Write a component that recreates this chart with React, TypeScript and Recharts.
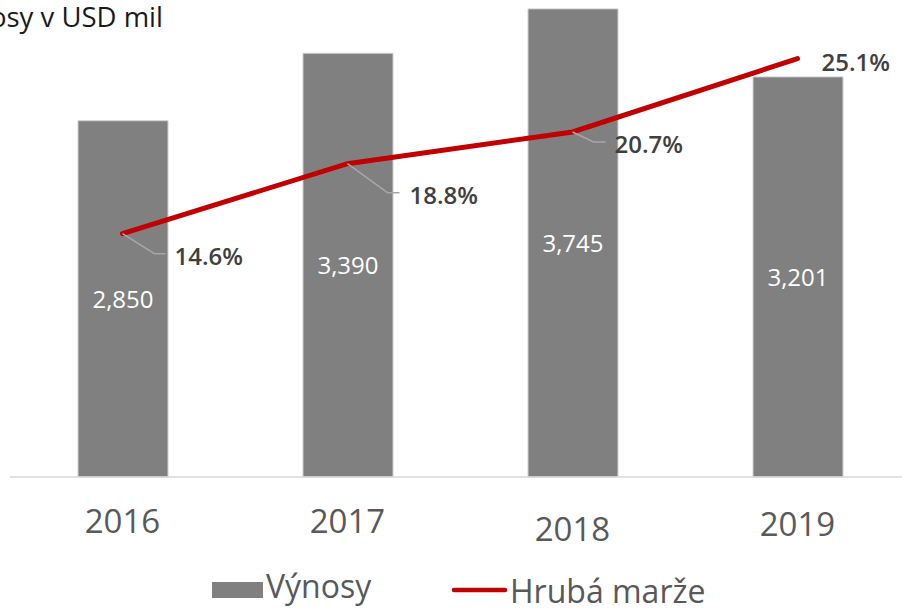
import { ComposedChart, Bar, Line, XAxis, YAxis, LabelList, Legend } from 'recharts';

const years = ['2016', '2017', '2018', '2019'];
const revenue = [2850, 3390, 3745, 3201];
const grossMargin = [14.6, 18.8, 20.7, 25.1];

const data = years.map((year, i) => ({ year, revenue: revenue[i], margin: grossMargin[i] }));

const FONT = '"Open Sans", sans-serif';
const BAR_COLOR = '#808080';
const LINE_COLOR = '#c00000';

// where each margin label sits relative to its point (leader line like in excel)
const marginLabelPos = [
  { lx: 32, ly: 20, hx: 43, tx: 52, ty: 22 },
  { lx: 40, ly: 29, hx: 52, tx: 62, ty: 31 },
  { lx: 21, ly: 10, hx: 33, tx: 42, ty: 12 },
  { lx: 0, ly: 0, hx: 0, tx: 24, ty: 3 },
];

// 2018 label sits a bit lower in the original
const tickShift = [0, 0, 8, 3];

function YearTick(props: any) {
  const { x, y, payload, index } = props;
  return (
    <text
      x={x}
      y={y + 56 + (tickShift[index] ?? 0)}
      textAnchor="middle"
      fontFamily={FONT}
      fontSize={33}
      fill="#595959"
    >
      {payload.value}
    </text>
  );
}

function RevenueLabel(props: any) {
  const { x, y, width, height, value } = props;
  return (
    <text
      x={x + width / 2}
      y={y + height / 2 + 9}
      textAnchor="middle"
      fontFamily={FONT}
      fontSize={24}
      fill="#ffffff"
    >
      {Number(value).toLocaleString('en-US')}
    </text>
  );
}

function MarginLabel(props: any) {
  const { x, y, value, index } = props;
  const p = marginLabelPos[index];
  return (
    <g>
      {p.lx > 0 && (
        <polyline
          points={`${x},${y} ${x + p.lx},${y + p.ly} ${x + p.hx},${y + p.ly}`}
          fill="none"
          stroke="#a6a6a6"
          strokeWidth={1.5}
        />
      )}
      <text
        x={x + p.tx}
        y={y + p.ty + 9}
        fontFamily={FONT}
        fontSize={24}
        fontWeight={600}
        fill="#404040"
      >
        {`${value.toFixed(1)}%`}
      </text>
    </g>
  );
}

function ChartLegend() {
  return (
    <svg width={902} height={50} style={{ display: 'block', overflow: 'visible' }}>
      <rect x={212} y={12} width={51} height={16} fill={BAR_COLOR} />
      <text x={266} y={28} fontFamily={FONT} fontSize={32} fill="#595959">
        Výnosy
      </text>
      <line x1={454} y1={20} x2={505} y2={20} stroke={LINE_COLOR} strokeWidth={4.5} strokeLinecap="round" />
      <text x={510} y={33} fontFamily={FONT} fontSize={32} fill="#595959">
        Hrubá marže
      </text>
    </svg>
  );
}

export default function App() {
  return (
    <div
      style={{
        position: 'absolute',
        left: 0,
        top: 0,
        width: 902,
        height: 608,
        overflow: 'hidden',
        background: '#ffffff',
      }}
    >
      <ComposedChart
        width={912}
        height={608}
        data={data}
        margin={{ top: 2, right: 2, left: 10, bottom: 0 }}
      >
        <XAxis
          dataKey="year"
          axisLine={{ stroke: '#d9d9d9', strokeWidth: 1.5 }}
          tickLine={false}
          tickSize={0}
          tickMargin={0}
          height={131}
          tick={<YearTick />}
          interval={0}
        />
        <YAxis yAxisId="rev" hide domain={[0, 3800]} />
        <YAxis yAxisId="pct" hide orientation="right" domain={[0, 28.5]} />
        <Legend
          layout="horizontal"
          verticalAlign="middle"
          align="center"
          wrapperStyle={{ top: 570, left: 0, width: 902, height: 50 }}
          content={() => <ChartLegend />}
        />
        <Bar
          yAxisId="rev"
          dataKey="revenue"
          name="Výnosy"
          fill={BAR_COLOR}
          stroke="#d0d0d0"
          strokeWidth={1}
          barSize={90}
          isAnimationActive={false}
        >
          <LabelList dataKey="revenue" content={<RevenueLabel />} />
        </Bar>
        <Line
          yAxisId="pct"
          dataKey="margin"
          name="Hrubá marže"
          stroke={LINE_COLOR}
          strokeWidth={5}
          strokeLinecap="round"
          dot={false}
          activeDot={false}
          isAnimationActive={false}
        >
          <LabelList dataKey="margin" content={<MarginLabel />} />
        </Line>
      </ComposedChart>
      <svg
        width={902}
        height={40}
        style={{ position: 'absolute', left: 0, top: 0, pointerEvents: 'none', overflow: 'visible' }}
      >
        {/* title is cropped at the left edge in the original */}
        <text x={163} y={27} textAnchor="end" fontFamily={FONT} fontSize={27.5} fill="#1a1a1a">
          Výnosy v USD mil
        </text>
      </svg>
    </div>
  );
}
